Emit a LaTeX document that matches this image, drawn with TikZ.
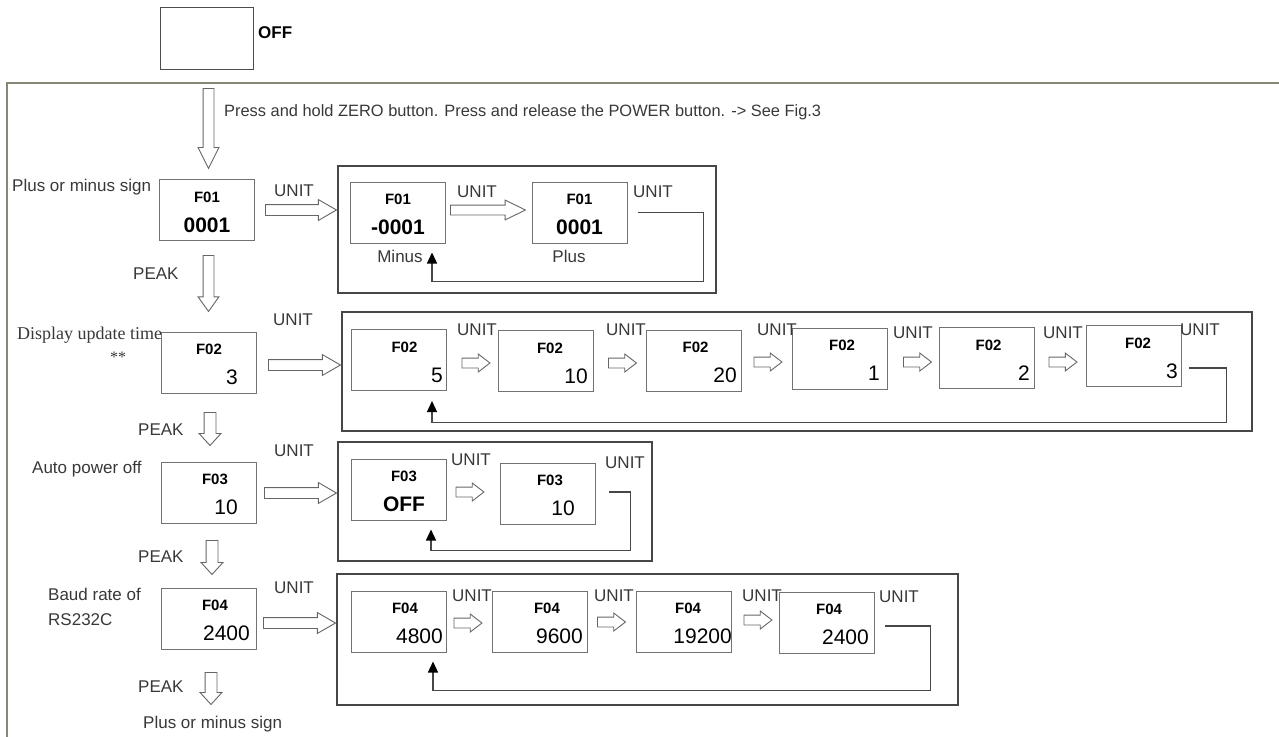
\documentclass[tikz,border=0pt]{standalone}
\usepackage{fontspec}
\setmainfont{Liberation Sans}
\newfontfamily\oddserif{Liberation Serif}
\usepackage{tikz}
\usetikzlibrary{arrows.meta,positioning,calc,shapes.arrows}

\definecolor{framegray}{RGB}{135,135,120}
\newcommand{\fsz}[1]{\fontsize{#1}{#1}\selectfont}
% one display: [code options] name, centre, code, value, value options
\newcommand{\lcd}[6][]{%
  \node[lcdbox] (#2) at #3 {};
  \node[codetxt, #1] (#2c) at ($(#2.center)+(0,-13)$) {#4};
  \node[valtxt, #6] (#2v) at ($(#2.center)+(0,15)$) {#5};
}

\begin{document}
\begin{tikzpicture}[x=1pt, y=-1pt,
  lcdbox/.style={draw=black!55, line width=1pt, minimum width=95pt, minimum height=61pt, inner sep=0pt},
  group/.style={draw=black!72, line width=1.3pt, inner sep=0pt},
  codetxt/.style={font=\fsz{15}\bfseries, inner sep=0pt},
  valtxt/.style={font=\fsz{21}, inner sep=0pt},
  rval/.style={anchor=east, xshift=#1},
  note/.style={font=\fsz{17}, text=black!78, inner sep=0pt, anchor=west},
  hollow/.style={single arrow, draw=black!60, line width=0.9pt, fill=white, inner xsep=0pt, anchor=tail},
  bigarrow/.style={hollow, inner ysep=5pt, single arrow head extend=5pt, single arrow tip angle=60, minimum height=#1},
  midarrow/.style={hollow, inner ysep=4.5pt, single arrow head extend=5pt, single arrow tip angle=52, minimum height=#1},
  smallarrow/.style={hollow, inner ysep=4.5pt, single arrow head extend=4pt, single arrow tip angle=75, minimum height=28pt},
  downarrow/.style={hollow, rotate=-90, inner ysep=5pt, single arrow head extend=5pt, minimum height=#1},
  back/.style={draw=black!72, line width=1.2pt, -{Triangle[length=11pt, width=10pt, color=black]}},
  frame/.style={draw=framegray, line width=1.8pt}
]
\useasboundingbox (0,0) rectangle (1279,736);

% power off
\node[lcdbox, minimum width=93pt, minimum height=62pt, draw=black!70] (off) at (206.5,38) {};
\node[codetxt, font=\fsz{17}\bfseries, anchor=west] (offlbl) at (258,33) {OFF};

\coordinate (fr) at (7,83);
\draw[frame] (1290,83) -- (fr) -- (7,745);

\node[note, font=\fsz{16.4}] (press) at (224,112) {Press and hold ZERO button. Press and release the POWER button. -> See Fig.3};
\node[downarrow=80pt, single arrow tip angle=53] (dn0) at (208.5,88) {};

% F01
\node[note] (s1) at (12,187) {Plus or minus sign};
\lcd{F01}{(207,210)}{F01}{\bfseries 0001}{}
\node[note] (u1) at (274,191) {UNIT};
\node[group, minimum width=378pt, minimum height=127pt] (G1) at (527,229.5) {};
\node[bigarrow=71pt, anchor=tip] (in1) at (G1.west |- F01) {};
\lcd{m1}{(398,212.5)}{F01}{\bfseries -0001}{}
\node[note, anchor=center] (minus) at (400,256) {Minus};
\node[midarrow=75pt] (st1) at ($(m1.east)+(4,-2.5)$) {};
\node[note] (u1a) at (457,192) {UNIT};
\lcd{p1}{(579.5,212.5)}{F01}{\bfseries 0001}{}
\node[note, anchor=center] (plus) at (569,256) {Plus};
\node[note] (u1b) at (633,192) {UNIT};
\draw[back] ($(p1.east)+(10,0)$) -| ($(G1.south east)+(-13,-12)$) -| ($(m1.south)+(34,9)$);

% F02
\node[note] (k1) at (133,274) {PEAK};
\node[downarrow=56pt, single arrow tip angle=71] (dn1) at (208.5,255) {};
\node[note, font=\oddserif\fsz{18}] (t2) at (17,335) {Display update time};
\node[note, anchor=center, font=\oddserif\fsz{16}] (t2b) at (118,357) {**};
\lcd{F02}{(209,362.5)}{F02}{3}{rval=29}
\node[note] (u2) at (273,320) {UNIT};
\node[group, minimum width=910pt, minimum height=119pt] (G2) at (797,371.5) {};
\node[bigarrow=72pt, anchor=tip] (in2) at ($(G2.west)+(0,-6.5)$) {};
\lcd[xshift=6]{a2}{(398.5,360)}{F02}{5}{rval=44.5}
\lcd[xshift=4]{b2}{(546,361)}{F02}{10}{rval=42}
\lcd[xshift=2]{c2}{(693.5,360.5)}{F02}{20}{rval=43.5}
\lcd[xshift=2]{d2}{(840,358.5)}{F02}{1}{rval=40}
\lcd[xshift=2]{e2}{(986.5,358)}{F02}{2}{rval=43.5}
\lcd[xshift=4]{f2}{(1134,356)}{F02}{3}{rval=44}
\node[smallarrow] (st2a) at ($(a2.east)+(15,3)$) {};
\node[smallarrow] (st2b) at ($(b2.east)+(14,2)$) {};
\node[smallarrow] (st2c) at ($(c2.east)+(12,1.5)$) {};
\node[smallarrow] (st2d) at ($(d2.east)+(15,3.5)$) {};
\node[smallarrow] (st2e) at ($(e2.east)+(14,4)$) {};
\node[note] (u2a) at (457,330) {UNIT};
\node[note] (u2b) at (606,330) {UNIT};
\node[note] (u2c) at (757,330) {UNIT};
\node[note] (u2d) at (893,333) {UNIT};
\node[note] (u2e) at (1043,333) {UNIT};
\node[note] (u2f) at (1180,330) {UNIT};
\draw[back] ($(f2.east)+(7,12)$) -| ($(G2.south east)+(-26,-9)$) -| ($(a2.south)+(33.5,10)$);

% F03
\node[note] (k2) at (138,430) {PEAK};
\node[downarrow=33pt, inner ysep=5.5pt, single arrow tip angle=85] (dn2) at (210,412) {};
\node[note] (t3) at (32,469) {Auto power off};
\lcd[xshift=6]{F03}{(209,492.5)}{F03}{10}{rval=29}
\node[note] (u3) at (274,451) {UNIT};
\node[group, minimum width=314pt, minimum height=119pt] (G3) at (495,501.5) {};
\node[bigarrow=72pt, anchor=tip] (in3) at ($(G3.west)+(0,-8.5)$) {};
\lcd[xshift=5.5]{a3}{(398.5,489.5)}{F03}{\bfseries OFF}{xshift=5.5}
\lcd[xshift=2]{b3}{(548,493.5)}{F03}{10}{rval=27}
\node[smallarrow] (st3a) at ($(a3.east)+(9,2.5)$) {};
\node[note] (u3a) at (451,460) {UNIT};
\node[note] (u3b) at (605,463) {UNIT};
\draw[back] ($(b3.east)+(13,-1.5)$) -| ($(G3.south east)+(-22,-11)$) -| ($(a3.south)+(32.5,9)$);

% F04
\node[note] (k3) at (138,557) {PEAK};
\node[downarrow=34pt, inner ysep=5.5pt, single arrow tip angle=85] (dn3) at (212,540) {};
\node[note, font=\fontsize{17}{25}\selectfont, align=left] (t4) at (48,607) {Baud rate of\\RS232C};
\lcd[xshift=6]{F04}{(209,618.5)}{F04}{2400}{rval=41}
\node[note] (u4) at (274,588) {UNIT};
\node[group, minimum width=621pt, minimum height=131pt] (G4) at (647.5,639.5) {};
\node[bigarrow=72pt, anchor=tip] (in4) at ($(G4.west)+(0,-16.5)$) {};
\lcd[xshift=6.5]{a4}{(398.5,621.5)}{F04}{4800}{rval=44.5}
\lcd[xshift=7]{b4}{(540,621.5)}{F04}{9600}{rval=43}
\lcd[xshift=4.5]{c4}{(683.5,621.5)}{F04}{19200}{rval=48.5}
\lcd[xshift=2]{d4}{(827,622.5)}{F04}{2400}{rval=42}
\node[smallarrow] (st4a) at ($(a4.east)+(7,1.5)$) {};
\node[smallarrow] (st4b) at ($(b4.east)+(9,0.5)$) {};
\node[smallarrow] (st4c) at ($(c4.east)+(12,-1.5)$) {};
\node[note] (u4a) at (452,596) {UNIT};
\node[note] (u4b) at (594,596) {UNIT};
\node[note] (u4c) at (742,596) {UNIT};
\node[note] (u4d) at (879,597) {UNIT};
\draw[back] ($(d4.east)+(10,3.5)$) -| ($(G4.south east)+(-28,-15)$) -| ($(a4.south)+(34.5,9)$);

\node[note] (k4) at (138,687) {PEAK};
\node[downarrow=32pt, inner ysep=5.5pt, single arrow tip angle=85] (dn4) at (211,672) {};
\node[note] (s4) at (143,724) {Plus or minus sign};
\end{tikzpicture}
\end{document}
